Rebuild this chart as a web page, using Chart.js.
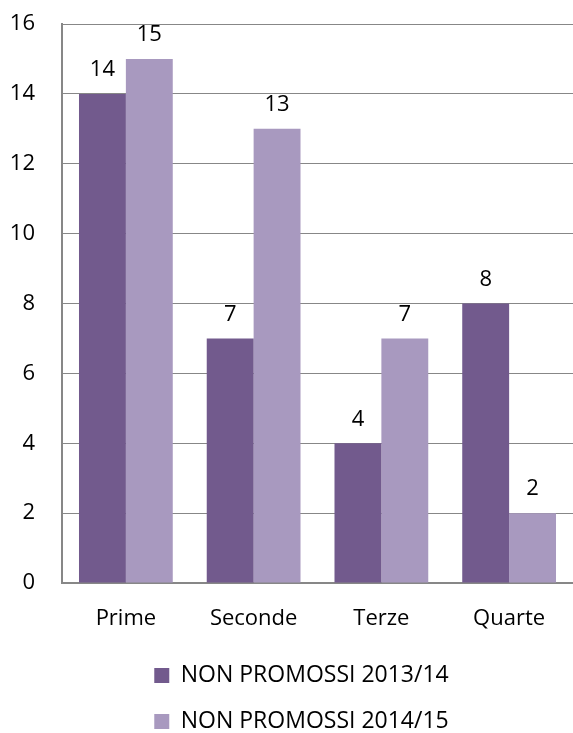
<!DOCTYPE html>
<html>
<head>
<meta charset="utf-8">
<script src="https://cdn.jsdelivr.net/npm/chart.js@4/dist/chart.umd.min.js"></script>
<style>
  html, body { margin: 0; padding: 0; background: #fff; overflow: hidden; }
  #wrap { width: 573px; height: 743px; }
</style>
</head>
<body>
<div id="wrap"><canvas id="chart"></canvas></div>
<script>
const categories = ['Prime', 'Seconde', 'Terze', 'Quarte'];
const seriesNames = ['NON PROMOSSI 2013/14', 'NON PROMOSSI 2014/15'];
const values2013 = [14, 7, 4, 8];
const values2014 = [15, 13, 7, 2];
const colors = ['#725a8d', '#a899bf'];

Chart.defaults.font.family = '"Open Sans", sans-serif';
Chart.defaults.font.size = 22;
Chart.defaults.color = '#000';

// value labels above each bar
const valueLabels = {
  id: 'valueLabels',
  afterDatasetsDraw(chart) {
    const ctx = chart.ctx;
    ctx.save();
    ctx.font = '22px "Open Sans", sans-serif';
    ctx.fillStyle = '#000';
    ctx.textAlign = 'center';
    ctx.textBaseline = 'bottom';
    chart.data.datasets.forEach((ds, i) => {
      chart.getDatasetMeta(i).data.forEach((bar, j) => {
        ctx.fillText(ds.data[j], bar.x, bar.y - 13);
      });
    });
    ctx.restore();
  }
};

// nudge the legend a bit to the right, like the original
const legendShift = {
  id: 'legendShift',
  afterLayout(chart) {
    chart.legend.left += 22;
  }
};

new Chart(document.getElementById('chart'), {
  type: 'bar',
  data: {
    labels: categories,
    datasets: [
      { label: seriesNames[0], data: values2013, backgroundColor: colors[0] },
      { label: seriesNames[1], data: values2014, backgroundColor: colors[1] },
    ],
  },
  options: {
    responsive: true,
    maintainAspectRatio: false,
    animation: false,
    categoryPercentage: 0.734,
    barPercentage: 1,
    layout: { padding: { top: 24, left: 8, right: 0, bottom: 0 } },
    plugins: {
      legend: {
        position: 'bottom',
        labels: { boxWidth: 15, boxHeight: 15, padding: 23, font: { size: 23 } },
      },
      tooltip: { enabled: false },
    },
    scales: {
      x: {
        grid: { display: false, drawTicks: false },
        border: { color: '#878787', width: 2 },
        ticks: { padding: 23 },
        afterFit: (scale) => {
          scale.height = 58;
          scale.paddingLeft = 0;
          scale.paddingRight = 0;
        },
      },
      y: {
        min: 0,
        max: 16,
        ticks: { stepSize: 2, padding: 27 },
        grid: { color: '#878787', lineWidth: 1, drawTicks: false },
        border: { color: '#878787', width: 2 },
        afterFit: (scale) => {
          scale.width = 54;
          scale.paddingTop = 0;
          scale.paddingBottom = 0;
        },
      },
    },
  },
  plugins: [valueLabels, legendShift],
});
</script>
</body>
</html>
